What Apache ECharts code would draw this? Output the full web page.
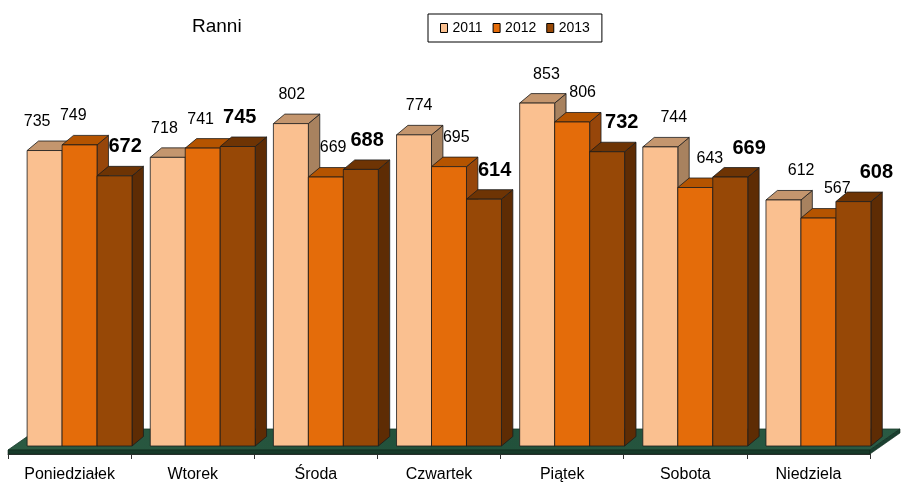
<!DOCTYPE html>
<html>
<head>
<meta charset="utf-8">
<script src="https://cdn.jsdelivr.net/npm/echarts@6/dist/echarts.min.js"></script>
<style>
  html, body { margin: 0; padding: 0; background: #fff; }
  #chart { width: 901px; height: 488px; }
</style>
</head>
<body>
<div id="chart"></div>
<script>
// Days of the week and yearly counts of injured people ("Ranni")
const categories = ['Poniedziałek', 'Wtorek', 'Środa', 'Czwartek', 'Piątek', 'Sobota', 'Niedziela'];
const years = ['2011', '2012', '2013'];
const values2011 = [735, 718, 802, 774, 853, 744, 612];
const values2012 = [749, 741, 669, 695, 806, 643, 567];
const values2013 = [672, 745, 688, 614, 732, 669, 608];
const yearValues = [values2011, values2012, values2013];

// Face shading per year: front, top, side
const faceColors = [
  { front: '#FAC090', top: '#C4966E', side: '#A8825F' },
  { front: '#E46C0A', top: '#B55400', side: '#97460A' },
  { front: '#974806', top: '#6E3404', side: '#5E2C04' }
];

const FONT = '"Liberation Sans", Arial, sans-serif';
const BAR_FRAC = 0.284;     // bar width as part of the category band
const FRONT_DX = 10;        // bar front plane offset from the floor edge
const FRONT_DY = -8;
const DEPTH_DX = 11.4;      // bar depth projection
const DEPTH_DY = -9.5;
const OUTLINE = '#1c1c1c';

function makeBarRenderer(k) {
  const colors = faceColors[k];
  const bold = k === 2;
  const fontSize = bold ? 20 : 16;
  return function (params, api) {
    const i = api.value(0);
    const v = api.value(1);
    const base = api.coord([i, 0]);
    const top = api.coord([i, v]);
    const bw = api.size([1, 0])[0];
    const barW = bw * BAR_FRAC;
    const fx = base[0] - 1.5 * barW + k * barW + FRONT_DX;
    const ty = top[1] + FRONT_DY;
    const by = base[1] + FRONT_DY;
    const cx = fx + barW / 2;
    let labelX = cx + (bold ? -6 : -9) + 0.034 * cx;
    // keep the label clear of a taller neighbour on the left
    if (k > 0 && yearValues[k - 1][i] > v) {
      const halfW = String(v).length * 0.556 * fontSize / 2;
      labelX = Math.max(labelX, fx + DEPTH_DX + halfW);
    }
    return {
      type: 'group',
      children: [
        {
          type: 'polygon',
          shape: { points: [[fx + barW, ty], [fx + barW + DEPTH_DX, ty + DEPTH_DY], [fx + barW + DEPTH_DX, by + DEPTH_DY], [fx + barW, by]] },
          style: { fill: colors.side, stroke: OUTLINE, lineWidth: 0.8 }
        },
        {
          type: 'polygon',
          shape: { points: [[fx, ty], [fx + barW, ty], [fx + barW + DEPTH_DX, ty + DEPTH_DY], [fx + DEPTH_DX, ty + DEPTH_DY]] },
          style: { fill: colors.top, stroke: OUTLINE, lineWidth: 0.8 }
        },
        {
          type: 'rect',
          shape: { x: fx, y: ty, width: barW, height: by - ty },
          style: { fill: colors.front, stroke: OUTLINE, lineWidth: 0.8 }
        },
        {
          type: 'text',
          z2: 50,
          style: {
            text: String(v),
            x: labelX,
            y: ty - 29,
            fill: '#000',
            fontFamily: FONT,
            fontSize: fontSize,
            fontWeight: bold ? 'bold' : 'normal',
            align: 'center',
            verticalAlign: 'middle',
            textAlign: 'center',
            textVerticalAlign: 'middle'
          }
        }
      ]
    };
  };
}

// Green floor under the bars, drawn from the grid rectangle
function renderFloor(params) {
  const cs = params.coordSys;
  const x0 = cs.x, x1 = cs.x + cs.width, yb = cs.y + cs.height;
  const yf = yb - 4, yk = yb - 25, dx = 30;
  return {
    type: 'group',
    children: [
      {
        type: 'polygon',
        shape: { points: [[x0, yf], [x1, yf], [x1 + dx, yk], [x0 + dx, yk]] },
        style: {
          fill: {
            type: 'linear', x: 0, y: 0, x2: 1, y2: 1,
            colorStops: [
              { offset: 0, color: '#2B5A42' },
              { offset: 0.5, color: '#21503A' },
              { offset: 1, color: '#2A5A43' }
            ]
          },
          stroke: '#17392A', lineWidth: 0.8
        }
      },
      {
        type: 'polygon',
        shape: { points: [[x0, yf], [x1, yf], [x1, yb], [x0, yb]] },
        style: { fill: '#173A2A', stroke: '#10291D', lineWidth: 0.6 }
      },
      {
        type: 'polygon',
        shape: { points: [[x1, yf], [x1 + dx, yk], [x1 + dx, yk + 4], [x1, yb]] },
        style: { fill: '#1A4030', stroke: '#10291D', lineWidth: 0.6 }
      }
    ]
  };
}

const chart = echarts.init(document.getElementById('chart'), null, { renderer: 'canvas' });

const series = [
  {
    name: 'floor',
    type: 'custom',
    renderItem: renderFloor,
    data: [[0, 0]],
    silent: true,
    z: 1
  }
];
years.forEach(function (year, k) {
  series.push({
    name: year,
    type: 'custom',
    renderItem: makeBarRenderer(k),
    itemStyle: { color: faceColors[k].front },
    data: yearValues[k].map(function (v, i) { return [i, v]; }),
    z: 2
  });
});

chart.setOption({
  animation: false,
  backgroundColor: '#fff',
  title: {
    text: 'Ranni',
    left: 187,
    top: 12,
    textStyle: { fontFamily: FONT, fontSize: 19, fontWeight: 'normal', color: '#000' }
  },
  legend: {
    data: years,
    left: 428,
    top: 14,
    orient: 'horizontal',
    icon: 'rect',
    itemWidth: 7,
    itemHeight: 9,
    itemGap: 10,
    padding: [7, 12, 7, 12],
    borderColor: '#000',
    borderWidth: 1,
    backgroundColor: '#fff',
    itemStyle: { borderColor: '#000', borderWidth: 1 },
    textStyle: { fontFamily: FONT, fontSize: 14, color: '#000', padding: [0, 0, 0, 0] }
  },
  grid: { left: 8, right: 31, top: 52, bottom: 34, containLabel: false },
  xAxis: {
    type: 'category',
    data: categories,
    boundaryGap: true,
    axisLine: { show: true, lineStyle: { color: '#333', width: 1 } },
    axisTick: { show: true, length: 5, interval: 0, lineStyle: { color: '#333' } },
    axisLabel: { interval: 0, margin: 13, fontFamily: FONT, fontSize: 16, color: '#000' },
    splitLine: { show: false }
  },
  yAxis: {
    type: 'value',
    min: 0,
    max: 1000,
    interval: 100,
    show: false,
    splitLine: { show: false }
  },
  series: series
});
</script>
</body>
</html>
